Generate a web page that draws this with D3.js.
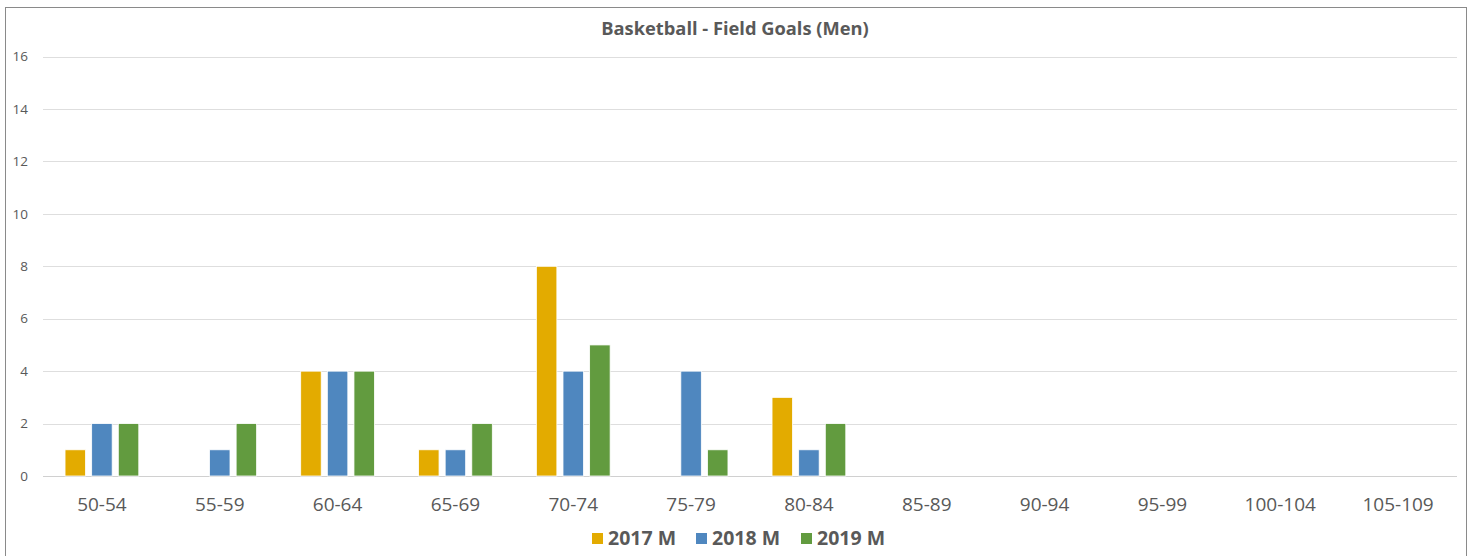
<!DOCTYPE html>
<html>
<head>
<meta charset="utf-8">
<script src="https://cdn.jsdelivr.net/npm/d3@7"></script>
<style>
  html, body { margin: 0; padding: 0; background: #fff; }
  svg { display: block; font-family: "Open Sans", sans-serif; }
</style>
</head>
<body>
<svg id="chart" width="1472" height="556"></svg>
<script>
const categories = ["50-54","55-59","60-64","65-69","70-74","75-79","80-84","85-89","90-94","95-99","100-104","105-109"];
const seriesNames = ["2017 M","2018 M","2019 M"];
const values2017 = [1,0,4,1,8,0,3,0,0,0,0,0];
const values2018 = [2,1,4,1,4,4,1,0,0,0,0,0];
const values2019 = [2,2,4,2,5,1,2,0,0,0,0,0];
const yTicks = [0,2,4,6,8,10,12,14,16];
const title = "Basketball - Field Goals (Men)";
const colors = ["#E3AB00","#4F87BF","#629B3F"];

(function () {
const seriesValues = [values2017, values2018, values2019];
const svg = d3.select("#chart");

// outer border
svg.append("rect").attr("x",5.5).attr("y",7.5).attr("width",1461).attr("height",560)
  .attr("fill","none").attr("stroke","#8a8a8a").attr("stroke-width",1);

const pLeft = 43, pRight = 1457, pTop = 56.6, pBottom = 476;
const x = d3.scaleBand().domain(categories).range([pLeft, pRight]).padding(0);
const y = d3.scaleLinear().domain([0,16]).range([pBottom, pTop]);
const inset = x.bandwidth() * 0.187;
const xs = d3.scaleBand().domain(seriesNames).range([0, x.bandwidth() - 2*inset]).paddingInner(0.23).paddingOuter(0);

// gridlines
svg.append("g").selectAll("line").data(yTicks).join("line")
  .attr("x1", pLeft).attr("x2", pRight)
  .attr("y1", d => Math.round(y(d)) + 0.5).attr("y2", d => Math.round(y(d)) + 0.5)
  .attr("stroke", d => d === 0 ? "#d0d0d0" : "#dedede").attr("stroke-width", 1);

// y labels
svg.append("g").selectAll("text").data(yTicks).join("text")
  .attr("x", 28).attr("y", d => y(d)).attr("dy","0.35em")
  .attr("text-anchor","end").attr("font-size",13.5).attr("fill","#595959")
  .text(d => d);

// bars
const groups = svg.append("g").selectAll("g").data(seriesNames).join("g")
  .attr("fill", (d,i) => colors[i]);
groups.selectAll("rect").data((s,i) => categories.map((c,j) => ({c, s, v: seriesValues[i][j]})))
  .join("rect")
  .attr("x", d => x(d.c) + inset + xs(d.s))
  .attr("width", xs.bandwidth())
  .attr("y", d => y(d.v))
  .attr("height", d => y(0) - y(d.v))
  .attr("stroke", "#ffffff").attr("stroke-width", 0.8)
  .attr("display", d => d.v === 0 ? "none" : null);

// x labels
svg.append("g").selectAll("text").data(categories).join("text")
  .attr("x", d => x(d) + x.bandwidth()/2).attr("y", 511)
  .attr("text-anchor","middle").attr("font-size",19).attr("fill","#595959")
  .text(d => d);

// title
svg.append("text").attr("x", 735).attr("y", 35).attr("text-anchor","middle")
  .attr("font-size",18.3).attr("font-weight","bold").attr("fill","#595959").text(title);

// legend
const legendX = [592, 696, 801];
const lg = svg.append("g").selectAll("g").data(seriesNames).join("g")
  .attr("transform", (d,i) => `translate(${legendX[i]},0)`);
lg.append("rect").attr("x",0).attr("y",533).attr("width",11).attr("height",11)
  .attr("fill", (d,i) => colors[i]);
lg.append("text").attr("x",16).attr("y",545).attr("font-size",19.5).attr("font-weight","bold")
  .attr("fill","#595959").text(d => d);
})();
</script>
</body>
</html>
